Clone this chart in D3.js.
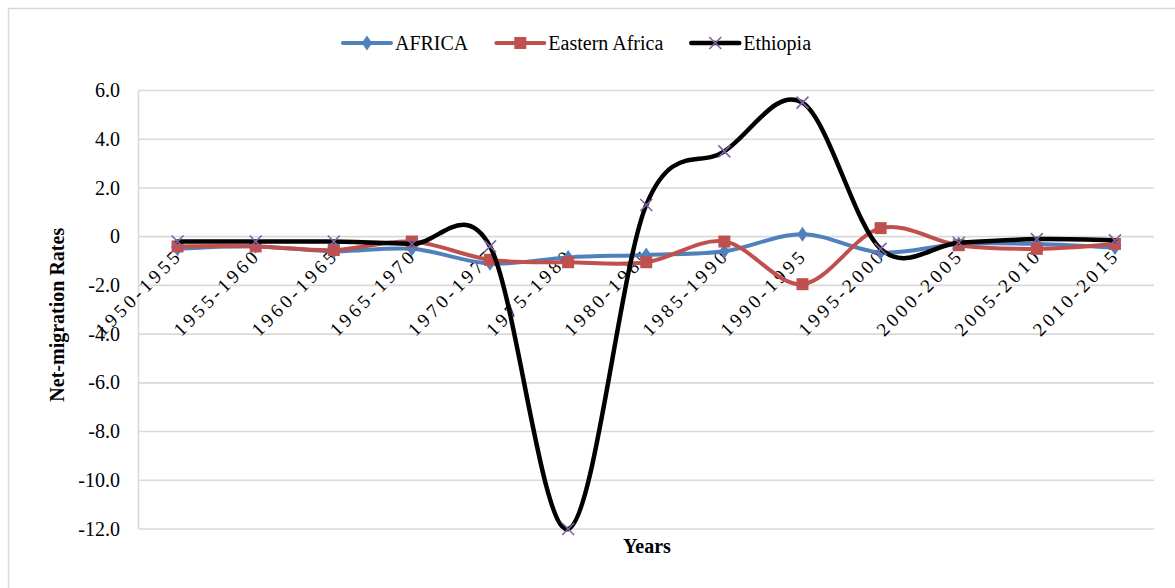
<!DOCTYPE html>
<html>
<head>
<meta charset="utf-8">
<script src="https://cdn.jsdelivr.net/npm/d3@7/dist/d3.min.js"></script>
<style>
  html, body { margin: 0; padding: 0; background: #fff; }
  svg { display: block; }
  text { font-family: "Liberation Serif", "Times New Roman", serif; fill: #000; }
</style>
</head>
<body>
<svg id="chart" width="1175" height="588"></svg>
<script>
const categories = ["1950-1955","1955-1960","1960-1965","1965-1970","1970-1975","1975-1980","1980-1985","1985-1990","1990-1995","1995-2000","2000-2005","2005-2010","2010-2015"];
const africa        = [-0.5, -0.4, -0.6, -0.5, -1.1, -0.85, -0.75, -0.6, 0.1, -0.65, -0.3, -0.3, -0.45];
const easternAfrica = [-0.4, -0.4, -0.55, -0.2, -0.95, -1.05, -1.05, -0.2, -1.95, 0.35, -0.35, -0.5, -0.3];
const ethiopia      = [-0.2, -0.2, -0.2, -0.3, -0.4, -12.0, 1.3, 3.5, 5.5, -0.5, -0.25, -0.1, -0.15];
const yTickValues = [6, 4, 2, 0, -2, -4, -6, -8, -10, -12];
const yTickLabels = ["6.0","4.0","2.0","0","-2.0","-4.0","-6.0","-8.0","-10.0","-12.0"];
const seriesNames = ["AFRICA", "Eastern Africa", "Ethiopia"];

(function () {
const series = [
  { name: seriesNames[0], values: africa, color: "#4F81BD", width: 4, marker: "diamond", mColor: "#4F81BD" },
  { name: seriesNames[1], values: easternAfrica, color: "#C0504D", width: 4, marker: "square", mColor: "#C0504D" },
  { name: seriesNames[2], values: ethiopia, color: "#000000", width: 4.5, marker: "x", mColor: "#8064A2" }
];

const svg = d3.select("#chart");
const pLeft = 138.5, pRight = 1154, pTop = 90.5, pBottom = 529;

// outer frame
svg.append("rect").attr("x", 8.5).attr("y", 8.5).attr("width", 1200).attr("height", 620)
  .attr("fill", "none").attr("stroke", "#d9d9d9").attr("stroke-width", 1.5);

const x = d3.scalePoint().domain(categories).range([pLeft, pRight]).padding(0.5);
const y = d3.scaleLinear().domain([-12, 6]).range([pBottom, pTop]);

// gridlines
svg.append("g").selectAll("line").data(yTickValues).join("line")
  .attr("x1", pLeft).attr("x2", pRight)
  .attr("y1", d => y(d)).attr("y2", d => y(d))
  .attr("stroke", "#d9d9d9").attr("stroke-width", 1.6);
// vertical axis line
svg.append("line").attr("x1", pLeft).attr("x2", pLeft).attr("y1", y(6)).attr("y2", y(-12))
  .attr("stroke", "#d9d9d9").attr("stroke-width", 1.6);

// y tick labels
svg.append("g").selectAll("text").data(yTickValues).join("text")
  .attr("x", 120).attr("y", d => y(d)).attr("dy", "0.33em")
  .attr("text-anchor", "end").attr("font-size", 20)
  .text((d, i) => yTickLabels[i]);

// x tick labels (rotated) near zero line
svg.append("g").selectAll("text").data(categories).join("text")
  .attr("text-anchor", "end").attr("font-size", 19)
  .attr("letter-spacing", "3.5px")
  .attr("transform", d => `translate(${x(d) + 6},${y(0) + 20}) rotate(-45)`)
  .text(d => d);

// lines
const line = d3.line()
  .x((d, i) => x(categories[i]))
  .y(d => y(d))
  .curve(d3.curveCardinal.tension(0));

function drawMarker(g, type, color, cx, cy) {
  if (type === "diamond") {
    g.append("path").attr("d", d3.symbol(d3.symbolDiamond, 70)())
      .attr("transform", `translate(${cx},${cy}) scale(1.15,0.95)`)
      .attr("fill", color);
  } else if (type === "square") {
    g.append("rect").attr("x", cx - 6).attr("y", cy - 6).attr("width", 12).attr("height", 12)
      .attr("fill", color);
  } else {
    const s = 6;
    g.append("path").attr("d", `M${cx - s},${cy - s}L${cx + s},${cy + s}M${cx - s},${cy + s}L${cx + s},${cy - s}`)
      .attr("stroke", color).attr("stroke-width", 1.6).attr("fill", "none");
  }
}

series.forEach(s => {
  const g = svg.append("g");
  g.append("path").attr("d", line(s.values)).attr("fill", "none")
    .attr("stroke", s.color).attr("stroke-width", s.width)
    .attr("stroke-linejoin", "round").attr("stroke-linecap", "round");
  s.values.forEach((v, i) => drawMarker(g, s.marker, s.mColor, x(categories[i]), y(v)));
});

// axis titles
svg.append("text").attr("x", 647).attr("y", 553).attr("text-anchor", "middle")
  .attr("font-size", 20).attr("font-weight", "bold").text("Years");
svg.append("text").attr("transform", `translate(64,${(pTop + pBottom) / 2 + 5}) rotate(-90)`)
  .attr("text-anchor", "middle").attr("font-size", 20).attr("font-weight", "bold")
  .text("Net-migration Rates");

// legend
const legend = svg.append("g");
const legY = 43;
const items = [];
series.forEach(s => {
  const item = legend.append("g");
  item.append("line").attr("x1", 0).attr("x2", 48).attr("y1", 0).attr("y2", 0)
    .attr("stroke", s.color).attr("stroke-width", s.width).attr("stroke-linecap", "round");
  drawMarker(item, s.marker, s.mColor, 24, 0);
  const t = item.append("text").attr("x", 52).attr("y", 0).attr("dy", "0.33em")
    .attr("font-size", 20).text(s.name);
  const w = 52 + t.node().getComputedTextLength();
  items.push({ item, w });
});
const gap = 28;
const total = items.reduce((a, b) => a + b.w, 0) + gap * (items.length - 1);
let cursor = 577 - total / 2;
items.forEach(it => {
  it.item.attr("transform", `translate(${cursor},${legY})`);
  cursor += it.w + gap;
});
})();
</script>
</body>
</html>
